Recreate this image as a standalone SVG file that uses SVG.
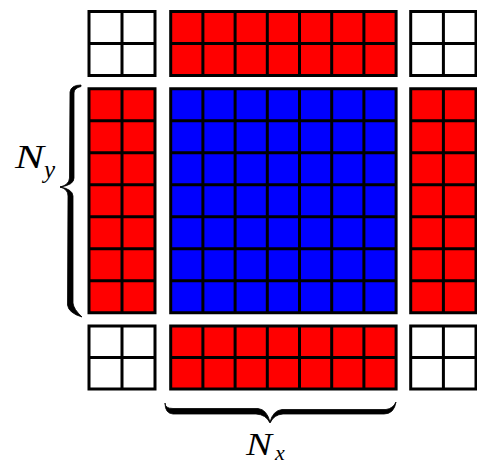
<svg xmlns="http://www.w3.org/2000/svg" width="477" height="466" viewBox="0 0 477 466">
<style>
.w{fill:#ffffff}
.r{fill:#ff0000}
.b{fill:#0000ff}
.g{fill:none;stroke:#000;stroke-width:3}
.br{fill:#000;stroke:#000;stroke-width:0.8;stroke-linejoin:round}
.t{font-family:"Liberation Serif","DejaVu Serif",serif;font-style:italic;fill:#000}
</style>
<rect width="477" height="466" fill="#fff"/>
<g id="corner-tl">
<rect class="w" x="89" y="11.5" width="66" height="64"/>
<path class="g" d="M89,11.5H155V75.5H89Z M122,11.5V75.5 M89,43.5H155"/>
</g>
<g id="halo-top">
<rect class="r" x="170.7" y="11.5" width="225.4" height="64"/>
<path class="g" d="M170.7,11.5H396.1V75.5H170.7Z M202.9,11.5V75.5 M235.1,11.5V75.5 M267.3,11.5V75.5 M299.5,11.5V75.5 M331.7,11.5V75.5 M363.9,11.5V75.5 M170.7,43.5H396.1"/>
</g>
<g id="corner-tr">
<rect class="w" x="410.7" y="11.5" width="65.3" height="64"/>
<path class="g" d="M410.7,11.5H476V75.5H410.7Z M443.4,11.5V75.5 M410.7,43.5H476"/>
</g>
<g id="halo-left">
<rect class="r" x="89" y="88.7" width="66" height="224"/>
<path class="g" d="M89,88.7H155V312.7H89Z M122,88.7V312.7 M89,120.7H155 M89,152.7H155 M89,184.7H155 M89,216.7H155 M89,248.7H155 M89,280.7H155"/>
</g>
<g id="interior">
<rect class="b" x="170.7" y="88.7" width="225.4" height="224"/>
<path class="g" d="M170.7,88.7H396.1V312.7H170.7Z M202.9,88.7V312.7 M235.1,88.7V312.7 M267.3,88.7V312.7 M299.5,88.7V312.7 M331.7,88.7V312.7 M363.9,88.7V312.7 M170.7,120.7H396.1 M170.7,152.7H396.1 M170.7,184.7H396.1 M170.7,216.7H396.1 M170.7,248.7H396.1 M170.7,280.7H396.1"/>
</g>
<g id="halo-right">
<rect class="r" x="410.7" y="88.7" width="65.3" height="224"/>
<path class="g" d="M410.7,88.7H476V312.7H410.7Z M443.4,88.7V312.7 M410.7,120.7H476 M410.7,152.7H476 M410.7,184.7H476 M410.7,216.7H476 M410.7,248.7H476 M410.7,280.7H476"/>
</g>
<g id="corner-bl">
<rect class="w" x="89" y="326" width="66" height="63"/>
<path class="g" d="M89,326H155V389H89Z M122,326V389 M89,357.5H155"/>
</g>
<g id="halo-bottom">
<rect class="r" x="170.7" y="326" width="225.4" height="63"/>
<path class="g" d="M170.7,326H396.1V389H170.7Z M202.9,326V389 M235.1,326V389 M267.3,326V389 M299.5,326V389 M331.7,326V389 M363.9,326V389 M170.7,357.5H396.1"/>
</g>
<g id="corner-br">
<rect class="w" x="410.7" y="326" width="65.3" height="63"/>
<path class="g" d="M410.7,326H476V389H410.7Z M443.4,326V389 M410.7,357.5H476"/>
</g>
<g id="braces">
<path class="br" d="M81,85 Q71,85 70,92 L69.5,178 Q69,185 60,187 Q68,189 68,196 L67.5,305 Q68.5,313 82,317 Q73.5,309 73,303 L73,196 Q72.5,189 60,187 Q74,185 74,178 L74,93 Q74,88 81,86.5 Z"/>
<path class="br" d="M165,403 Q165,408.5 173,408.5 L258,408.5 Q267,409.5 270,422 Q273,410.5 282,409.5 L386,409.5 Q393,408.5 396,402 Q394,414 384,414 L283,414 Q274,414.5 270,423 Q266,414.5 256,414 L173,414 Q165,413.5 165,403 Z"/>
</g>
<g id="label-ny">
<text class="t" x="15" y="168" font-size="34" textLength="29" lengthAdjust="spacingAndGlyphs">N</text>
<text class="t" x="44" y="178" font-size="25">y</text>
</g>
<g id="label-nx">
<text class="t" x="246" y="455" font-size="32" textLength="26" lengthAdjust="spacingAndGlyphs">N</text>
<text class="t" x="275" y="460" font-size="22">x</text>
</g>
</svg>
